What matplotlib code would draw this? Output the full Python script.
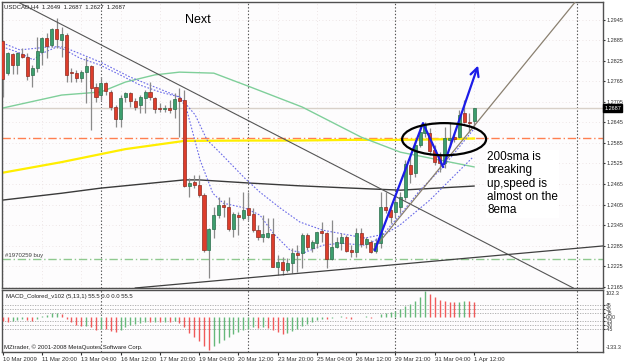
import matplotlib
matplotlib.use('Agg')
import matplotlib.pyplot as plt
from matplotlib.patches import Ellipse
import numpy as np

plt.rcParams['font.family'] = ['Liberation Sans', 'DejaVu Sans']

# ---------------- data ----------------
opens = [1.2883,1.2789,1.2845,1.2813,1.2845,1.2836,1.2784,1.2804,1.2851,1.2892,
         1.2871,1.2918,1.2886,1.2901,1.2792,1.2789,1.2775,1.2792,1.2810,1.2749,
         1.2725,1.2760,1.2734,1.2690,1.2655,1.2719,1.2731,1.2708,1.2696,1.2716,
         1.2734,1.2716,1.2687,1.2684,1.2687,1.2684,1.2716,1.2711,1.2459,1.2471,
         1.2462,1.2433,1.2272,1.2333,1.2374,1.2403,1.2398,1.2333,1.2374,1.2365,
         1.2395,1.2377,1.2330,1.2310,1.2310,1.2319,1.2222,1.2237,1.2213,1.2234,
         1.2263,1.2263,1.2316,1.2278,1.2292,1.2327,1.2321,1.2245,1.2281,1.2292,
         1.2310,1.2272,1.2266,1.2321,1.2289,1.2295,1.2269,1.2292,1.2398,1.2389,
         1.2383,1.2398,1.2427,1.2520,1.2497,1.2579,1.2614,1.2614,1.2564,1.2547,
         1.2526,1.2594,1.2602,1.2602,1.2672,1.2646,1.2649]
highs = [1.2886,1.2851,1.2848,1.2851,1.2863,1.2848,1.2813,1.2895,1.2895,1.2906,
         1.2921,1.2950,1.2924,1.2906,1.2804,1.2798,1.2798,1.2836,1.2813,1.2760,
         1.2778,1.2763,1.2740,1.2696,1.2725,1.2734,1.2734,1.2716,1.2725,1.2740,
         1.2763,1.2719,1.2702,1.2696,1.2711,1.2731,1.2746,1.2740,1.2482,1.2491,
         1.2491,1.2438,1.2336,1.2398,1.2427,1.2418,1.2427,1.2383,1.2383,1.2441,
         1.2441,1.2395,1.2345,1.2374,1.2365,1.2365,1.2257,1.2251,1.2248,1.2278,
         1.2286,1.2321,1.2321,1.2301,1.2324,1.2354,1.2324,1.2360,1.2310,1.2321,
         1.2316,1.2286,1.2336,1.2336,1.2310,1.2301,1.2307,1.2441,1.2441,1.2403,
         1.2427,1.2441,1.2535,1.2544,1.2594,1.2637,1.2646,1.2629,1.2579,1.2558,
         1.2632,1.2646,1.2614,1.2681,1.2711,1.2672,1.2687]
lows = [1.2719,1.2784,1.2787,1.2787,1.2833,1.2769,1.2749,1.2792,1.2813,1.2833,
        1.2866,1.2863,1.2836,1.2763,1.2763,1.2763,1.2763,1.2702,1.2623,1.2705,
        1.2711,1.2725,1.2681,1.2632,1.2632,1.2705,1.2690,1.2681,1.2672,1.2672,
        1.2711,1.2672,1.2675,1.2675,1.2672,1.2658,1.2602,1.2456,1.2427,1.2453,
        1.2427,1.2266,1.2190,1.2307,1.2365,1.2368,1.2327,1.2310,1.2316,1.2360,
        1.2360,1.2324,1.2301,1.2295,1.2307,1.2222,1.2199,1.2199,1.2207,1.2205,
        1.2207,1.2219,1.2272,1.2266,1.2278,1.2295,1.2219,1.2243,1.2278,1.2272,
        1.2266,1.2251,1.2251,1.2281,1.2278,1.2263,1.2263,1.2278,1.2380,1.2351,
        1.2368,1.2380,1.2418,1.2468,1.2485,1.2573,1.2602,1.2550,1.2520,1.2500,
        1.2512,1.2573,1.2588,1.2599,1.2643,1.2617,1.2627]
closes = [1.2772,1.2848,1.2813,1.2848,1.2836,1.2781,1.2804,1.2854,1.2892,1.2868,
          1.2918,1.2889,1.2904,1.2784,1.2789,1.2775,1.2792,1.2810,1.2746,1.2719,
          1.2760,1.2737,1.2690,1.2655,1.2716,1.2731,1.2708,1.2690,1.2719,1.2734,
          1.2719,1.2684,1.2684,1.2687,1.2681,1.2713,1.2708,1.2459,1.2468,1.2462,
          1.2433,1.2272,1.2333,1.2374,1.2403,1.2398,1.2333,1.2377,1.2368,1.2389,
          1.2374,1.2330,1.2310,1.2319,1.2321,1.2222,1.2237,1.2213,1.2234,1.2263,
          1.2257,1.2316,1.2281,1.2295,1.2324,1.2321,1.2245,1.2281,1.2295,1.2310,
          1.2269,1.2266,1.2321,1.2289,1.2304,1.2266,1.2292,1.2398,1.2389,1.2368,
          1.2412,1.2427,1.2523,1.2494,1.2579,1.2617,1.2640,1.2561,1.2529,1.2526,
          1.2599,1.2599,1.2596,1.2667,1.2646,1.2643,1.2687]

macd_hist = [-15,-18,-16,-12,-8,-12,-14,-6,2,8,
             14,16,12,-8,-20,-30,-36,-34,-40,-48,
             -44,-46,-52,-58,-50,-40,-32,-28,-22,-18,
             -20,-18,-20,-18,-20,-16,-22,-40,-60,-75,
             -90,-110,-125,-112,-98,-86,-76,-66,-58,-50,
             -44,-40,-42,-38,-42,-50,-58,-64,-60,-54,
             -46,-36,-28,-20,-12,-6,-8,-4,-2,2,
             -4,-6,0,-2,2,-4,0,10,16,20,
             24,30,42,48,60,75,100,88,76,66,
             62,58,55,58,62,60,55.5]

# moving averages (knots: bar index, price)
sma200_x = [0, 12, 25, 37, 50, 60, 71, 81, 87, 96]
sma200_y = [1.2498, 1.2529, 1.2567, 1.2591, 1.2592, 1.2592, 1.2594, 1.2594, 1.2595, 1.2598]
dark_ma_x = [0, 12, 20, 25, 37, 40, 50, 60, 71, 81, 96]
dark_ma_y = [1.2418, 1.2438, 1.2453, 1.2460, 1.2477, 1.2477, 1.2468, 1.2460, 1.2453, 1.2447, 1.2459]
green_ma_x = [0, 12, 20, 25, 31, 36, 43, 50, 61, 73, 81, 96]
green_ma_y = [1.2687, 1.2725, 1.2734, 1.2763, 1.2784, 1.2792, 1.2789, 1.2751, 1.2690, 1.2602, 1.2558, 1.2515]
ema_fast_x = [0, 3.5, 6.2, 8.2, 11.1, 12.7, 15.7, 19.8, 23.9, 28, 32, 36.1, 37.5, 40.2, 42.8,
              44.9, 49.3, 52.4, 55.1, 58.5, 61.2, 65.2, 68.7, 73.8, 76.8, 80.9, 85, 89.7, 95.8]
ema_fast_y = [1.2866, 1.2848, 1.2828, 1.2848, 1.2866, 1.2857, 1.2833, 1.2813, 1.2784, 1.2754,
              1.2734, 1.2719, 1.2681, 1.2535, 1.2438, 1.2409, 1.2395, 1.2374, 1.2321, 1.2272,
              1.2263, 1.2286, 1.2292, 1.2286, 1.2307, 1.2374, 1.2447, 1.2515, 1.2623]
ema_slow_x = [0, 3.5, 9.6, 12.3, 19.8, 25.9, 30, 36.1, 39.2, 41.6, 44.3, 49.3, 52.4, 56.5,
              60.5, 65.2, 73.8, 77.9, 80.9, 87, 95.8]
ema_slow_y = [1.2877, 1.2857, 1.2866, 1.2866, 1.2822, 1.2778, 1.2754, 1.2719, 1.2667, 1.2594,
              1.2556, 1.2482, 1.2441, 1.2395, 1.2354, 1.2330, 1.2307, 1.2319, 1.2345, 1.2418, 1.2544]

# drawn objects
trend_down_x = [3.1, 116.2]
trend_down_y = [1.2997, 1.2161]
trend_low_x = [27, 122.3]
trend_low_y = [1.2161, 1.2284]
trend_up_x = [75.4, 116.6]
trend_up_y = [1.2272, 1.2997]
zigzag_x = [75.8, 85.6, 89.7, 97.0]
zigzag_y = [1.2272, 1.2643, 1.2515, 1.2819]
ellipse_center = (89.9, 1.2596)
ellipse_size = (17.1, 0.0094)
level_orange = 1.2599
level_buy = 1.2245
bid_price = 1.2687
separators = [20, 50, 80, 117]

price_ticks = [1.2165, 1.2225, 1.2285, 1.2345, 1.2405, 1.2465, 1.2525, 1.2585,
               1.2645, 1.2705, 1.2765, 1.2825, 1.2885, 1.2945]
date_ticks = [0, 8, 16, 24, 32, 40, 48, 56, 64, 72, 80, 88, 96]
date_labels = ['10 Mar 2009', '11 Mar 20:00', '13 Mar 04:00', '16 Mar 12:00', '17 Mar 20:00',
               '19 Mar 04:00', '20 Mar 12:00', '23 Mar 20:00', '25 Mar 04:00', '26 Mar 12:00',
               '29 Mar 21:00', '31 Mar 04:00', '1 Apr 12:00']
macd_max, macd_min = 102.3, -133.3
macd_ticks = [45, 30, 15, 0, -15, -30, -45]
macd_tick_labels = ['45', '30', '15', '0.00', '-15', '-30', '-45']
macd_levels = [45, 30, 15, -15, -30, -45]

# ---------------- figure ----------------
W, H = 625, 363
fig = plt.figure(figsize=(W / 100, H / 100), dpi=100)
fig.patch.set_facecolor('white')
ax = fig.add_axes([2 / W, 1 - 288 / H, 601 / W, 286 / H])
axm = fig.add_axes([2 / W, 1 - 352 / H, 601 / W, 62 / H], sharex=ax)

x = np.arange(len(opens))
o = np.array(opens); h = np.array(highs); l = np.array(lows); c = np.array(closes)
up = c >= o
green = '#3d9e6e'
red = '#dd3d2c'

for a in (ax, axm):
    a.set_facecolor('#fdfcfd')
    for s in a.spines.values():
        s.set_color('#505050')
        s.set_linewidth(1.0)
    for sx in separators:
        a.axvline(sx, color='#505050', ls=(0, (1.2, 1.8)), lw=0.8, zorder=1)

ax.set_xlim(-0.14, 122.26)
ax.set_ylim(1.2161, 1.2997)

# grid
for pt in price_ticks:
    ax.axhline(pt, color='#e8dede', ls=(0, (1, 3)), lw=0.6, zorder=0)
for dt in date_ticks:
    ax.axvline(dt, color='#e8dede', ls=(0, (1, 3)), lw=0.6, zorder=0)

# horizontal levels
ax.axhline(bid_price, color='#d8d0c8', lw=1.0, zorder=1)
ax.axhline(level_orange, color='#ff7f50', lw=1.0, ls=(0, (6, 2, 1, 2)), zorder=2)
ax.axhline(level_buy, color='#8fc98f', lw=1.0, ls=(0, (6, 2, 1, 2)), zorder=2)

# moving averages
ax.plot(sma200_x, sma200_y, color='#ffee00', lw=1.6, zorder=2)
ax.plot(dark_ma_x, dark_ma_y, color='#3a3a3a', lw=1.0, zorder=2)
ax.plot(green_ma_x, green_ma_y, color='#7fcf9a', lw=1.0, zorder=2)
ax.plot(ema_fast_x, ema_fast_y, color='#6a6ae8', lw=0.8, ls=(0, (1.5, 1.5)), zorder=2)
ax.plot(ema_slow_x, ema_slow_y, color='#6a6ae8', lw=0.8, ls=(0, (1.5, 1.5)), zorder=2)

# candles
ax.vlines(x, l, h, color='#8a8a8a', lw=0.9, zorder=3)
body_bottom = np.minimum(o, c)
body_h = np.maximum(np.abs(c - o), 0.00012)
ax.bar(x, body_h, bottom=body_bottom, width=0.62,
       color=np.where(up, green, red), edgecolor=np.where(up, '#2b6e4c', '#8e2a20'),
       linewidth=0.5, zorder=4)

# trend lines
ax.plot(trend_down_x, trend_down_y, color='#555555', lw=0.8, zorder=5)
ax.plot(trend_low_x, trend_low_y, color='#404040', lw=0.9, zorder=5)
ax.plot(trend_up_x, trend_up_y, color='#8a8070', lw=0.9, zorder=5)

# blue zigzag arrow
ax.plot(zigzag_x[:-1], zigzag_y[:-1], color='#1c1ce8', lw=1.6, zorder=6)
ax.annotate('', xy=(zigzag_x[-1], zigzag_y[-1]), xytext=(zigzag_x[-2], zigzag_y[-2]),
            arrowprops=dict(arrowstyle='->,head_length=0.6,head_width=0.3',
                            color='#1c1ce8', lw=1.6), zorder=6)

ax.add_patch(Ellipse(ellipse_center, ellipse_size[0], ellipse_size[1], fill=False,
                     ec='black', lw=1.6, zorder=7))

# price axis on right
LBL = 4.0
ax.yaxis.tick_right()
ax.set_yticks(price_ticks)
ax.set_yticklabels(['%.4f' % p for p in price_ticks])
ax.tick_params(axis='y', labelsize=LBL, length=1.5, pad=0.8, colors='#303030')
ax.tick_params(axis='x', bottom=False, labelbottom=False)
ax.text(1.0025, bid_price, '%.4f' % bid_price, transform=ax.get_yaxis_transform(),
        fontsize=LBL, color='white', va='center', ha='left',
        bbox=dict(boxstyle='square,pad=0.2', fc='black', ec='black'), clip_on=False)

# texts
fig.text(4 / W, 1 - 7 / H, 'USDCAD,H4  1.2649  1.2687  1.2627  1.2687', fontsize=4.3,
         va='center', ha='left', color='#202020')
fig.text(185 / W, 1 - 20 / H, 'Next', fontsize=9, va='center', ha='left', color='black')
fig.text(5 / W, 1 - 255.5 / H, '#1970259 buy', fontsize=4.3, va='center', ha='left',
         color='#404040')
fig.text(487 / W, 1 - 151 / H, '200sma is\nbreaking\nup,speed is\nalmost on the\n8ema',
         fontsize=8.5, va='top', ha='left', color='black', linespacing=1.15,
         bbox=dict(boxstyle='square,pad=0.1', fc='white', ec='none'))

# MACD
axm.set_ylim(macd_min, macd_max)
mh = np.array(macd_hist)
prev = np.concatenate([[mh[0] + 1], mh[:-1]])
mcol = np.where(mh >= prev, '#66b87a', '#f05a5a')
axm.vlines(x, 0, mh, colors=mcol, lw=1.0, zorder=3)
for lv in macd_levels:
    axm.axhline(lv, color='#a8a8a8', ls=(0, (1.5, 1.5)), lw=0.6, zorder=1)
axm.yaxis.tick_right()
axm.set_yticks(macd_ticks)
axm.set_yticklabels(macd_tick_labels)
axm.tick_params(axis='y', labelsize=3.6, length=1.5, pad=0.8, colors='#303030')
axm.text(1.004, 0.98, '%.1f' % macd_max, transform=axm.transAxes, fontsize=LBL,
         va='top', ha='left', color='#303030', clip_on=False)
axm.text(1.004, 0.03, '%.1f' % macd_min, transform=axm.transAxes, fontsize=LBL,
         va='bottom', ha='left', color='#303030', clip_on=False)
axm.set_xticks(date_ticks)
axm.set_xticklabels(date_labels, ha='left')
axm.tick_params(axis='x', labelsize=4.3, length=2, pad=1.5, colors='#303030')
axm.text(4 / 601, 0.94, 'MACD_Colored_v102 (5,13,1) 55.5 0.0 0.0 55.5', transform=axm.transAxes,
         fontsize=4.3, va='top', ha='left', color='#202020')
axm.text(2 / 601, 0.03, 'MZtrader, \u00a9 2001-2008 MetaQuotes Software Corp.', transform=axm.transAxes,
         fontsize=4.3, va='bottom', ha='left', color='#202020')

fig.savefig('out.png', dpi=100)
